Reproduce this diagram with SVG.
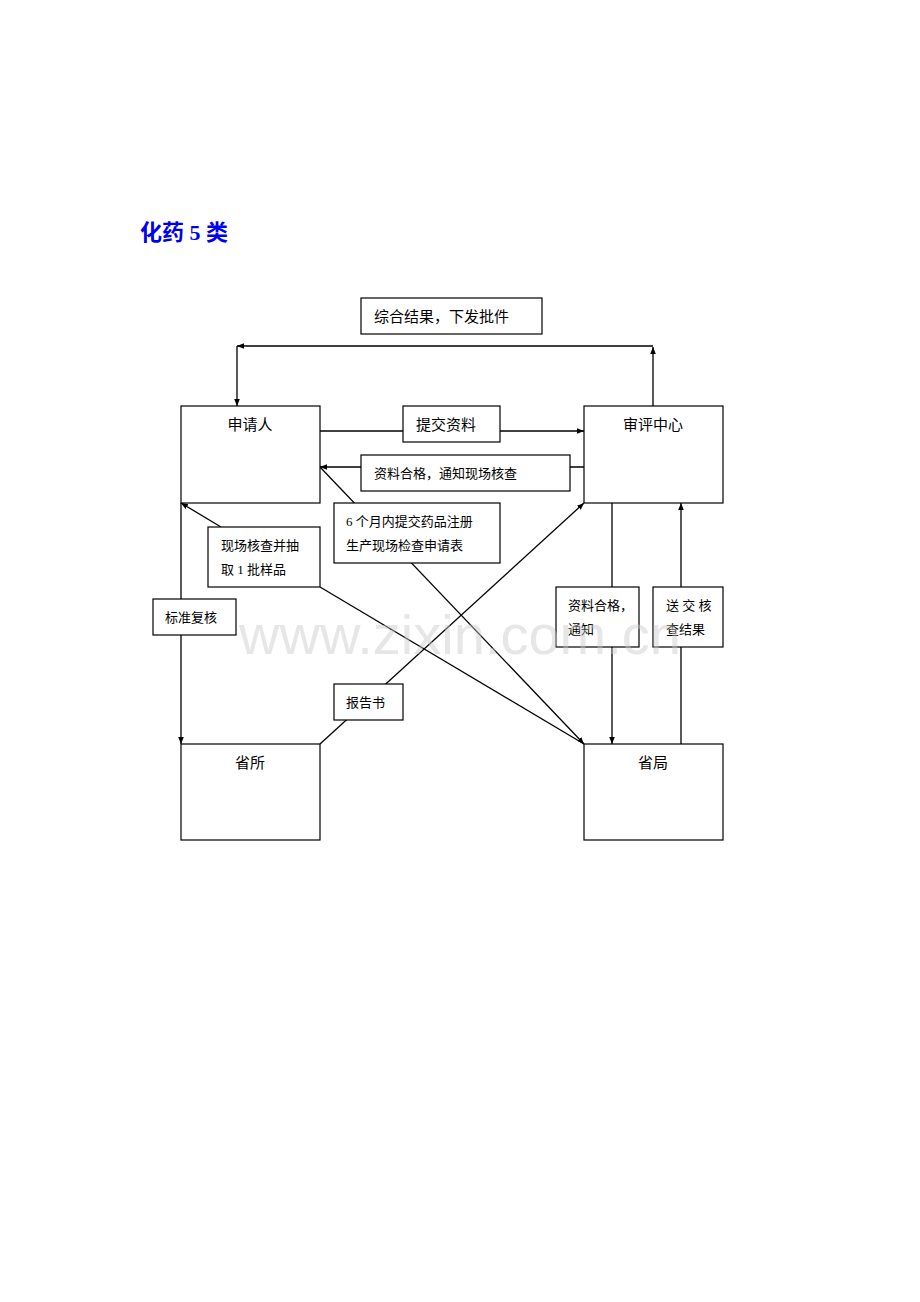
<svg xmlns="http://www.w3.org/2000/svg" width="920" height="1302" viewBox="0 0 920 1302">
<style>
.b{fill:#fff;stroke:#000;stroke-width:1.2}
.l{fill:none;stroke:#000;stroke-width:1.3}
text{font-family:"Liberation Serif","Noto Sans CJK SC",serif;fill:#000}
.t{font-size:15px}
.s{font-size:13px}
</style>
<defs>
<marker id="a" viewBox="0 0 10 10" refX="10" refY="5" markerWidth="7" markerHeight="7" orient="auto" markerUnits="userSpaceOnUse"><path d="M0,1L10,5L0,9z" fill="#000"/></marker>
</defs>
<rect width="920" height="1302" fill="#fff"/>
<text x="140" y="240" style="font-size:22px;font-weight:bold;fill:#0000ee">化药 5 类</text>
<g id="connectors">
<polyline class="l" points="653,406 653,347" marker-end="url(#a)"/>
<polyline class="l" points="653,346 237,346" marker-end="url(#a)"/>
<polyline class="l" points="237,346 237,406" marker-end="url(#a)"/>
<line class="l" x1="320" y1="431" x2="584" y2="431" marker-end="url(#a)"/>
<line class="l" x1="584" y1="467" x2="320" y2="467" marker-end="url(#a)"/>
<line class="l" x1="320" y1="467" x2="584" y2="744" marker-end="url(#a)"/>
<line class="l" x1="584" y1="744" x2="320" y2="587"/>
<line class="l" x1="221" y1="527" x2="181" y2="503" marker-end="url(#a)"/>
<line class="l" x1="320" y1="744" x2="584" y2="503" marker-end="url(#a)"/>
<line class="l" x1="181" y1="503" x2="181" y2="744" marker-end="url(#a)"/>
<line class="l" x1="612" y1="503" x2="612" y2="744" marker-end="url(#a)"/>
<line class="l" x1="681" y1="744" x2="681" y2="503" marker-end="url(#a)"/>
</g>
<g id="n_result"><rect class="b" x="361" y="298" width="181" height="36"/><text class="t" x="374" y="322">综合结果，下发批件</text></g>
<g id="n_applicant"><rect class="b" x="181" y="406" width="139" height="97"/><text class="t" x="250" y="430" text-anchor="middle">申请人</text></g>
<g id="n_center"><rect class="b" x="584" y="406" width="139" height="97"/><text class="t" x="653" y="430" text-anchor="middle">审评中心</text></g>
<g id="n_prov_inst"><rect class="b" x="181" y="744" width="139" height="96"/><text class="t" x="250" y="768" text-anchor="middle">省所</text></g>
<g id="n_prov_bureau"><rect class="b" x="584" y="744" width="139" height="96"/><text class="t" x="653" y="768" text-anchor="middle">省局</text></g>
<g id="l_submit"><rect class="b" x="403" y="406" width="97" height="36"/><text class="t" x="416" y="430">提交资料</text></g>
<g id="l_notify"><rect class="b" x="361" y="455" width="209" height="36"/><text class="s" x="374" y="478">资料合格，通知现场核查</text></g>
<g id="l_6month"><rect class="b" x="334" y="503" width="166" height="60"/><text class="s" x="346" y="526">6 个月内提交药品注册</text><text class="s" x="346" y="550">生产现场检查申请表</text></g>
<g id="l_inspect"><rect class="b" x="208" y="527" width="112" height="60"/><text class="s" x="221" y="550">现场核查并抽</text><text class="s" x="221" y="574">取 1 批样品</text></g>
<g id="l_standard"><rect class="b" x="153" y="599" width="83" height="36"/><text class="s" x="165" y="622">标准复核</text></g>
<g id="l_report"><rect class="b" x="334" y="684" width="69" height="36"/><text class="s" x="346" y="707">报告书</text></g>
<g id="l_notify2"><rect class="b" x="556" y="587" width="83" height="60"/><text class="s" x="568" y="610">资料合格，</text><text class="s" x="568" y="634">通知</text></g>
<g id="l_send"><rect class="b" x="653" y="587" width="70" height="60"/><text class="s" x="666" y="610">送 交 核</text><text class="s" x="666" y="634">查结果</text></g>
<text x="460" y="654" text-anchor="middle" style="font-family:'Liberation Sans',sans-serif;font-size:56px;fill:#c8c8c8;fill-opacity:0.45">www.zixin.com.cn</text>
</svg>
